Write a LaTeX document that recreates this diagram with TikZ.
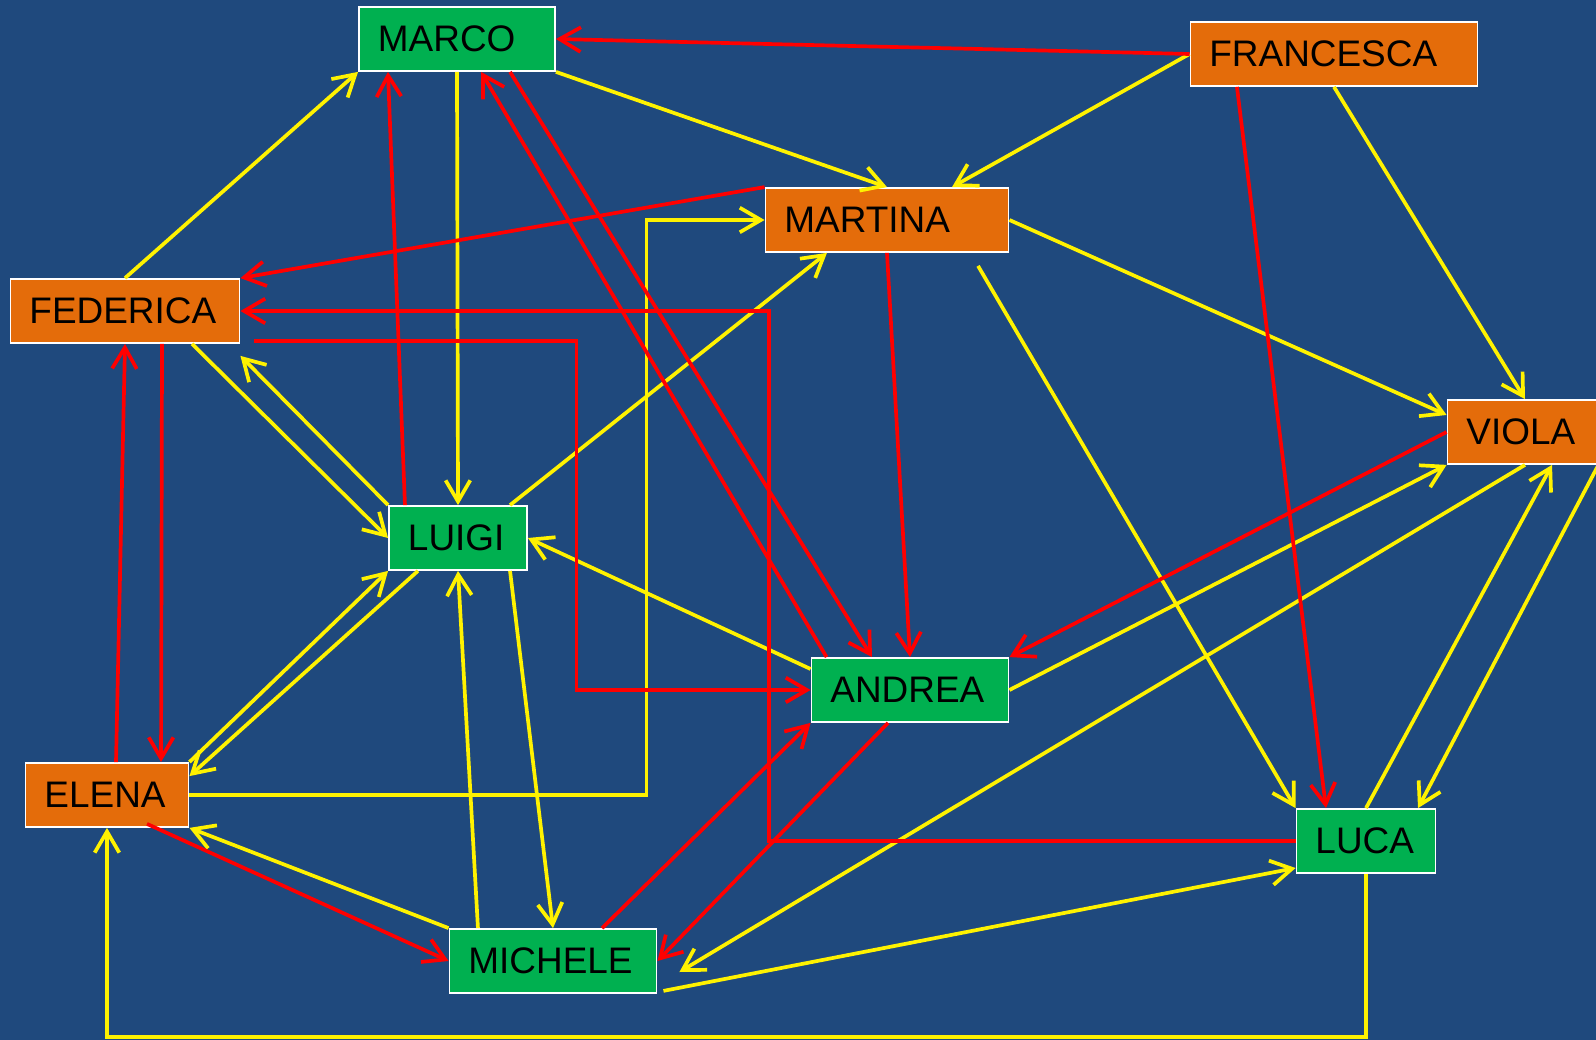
\documentclass[tikz,border=0pt]{standalone}
\usepackage{fontspec}
\setmainfont{Liberation Sans}
\usetikzlibrary{arrows.meta}
\definecolor{bgblue}{HTML}{1F497D}
\definecolor{boygreen}{HTML}{00B050}
\definecolor{girlorange}{HTML}{E46C0A}

\begin{document}
\begin{tikzpicture}[
  x=0.01cm, y=-0.01cm,
  >={Straight Barb[length=6pt,width=7pt]},
  person/.style={draw=white,line width=0.5pt,minimum height=0.64cm,inner xsep=0.19cm,inner ysep=0pt,
    align=left,font=\fontsize{10.5}{12}\selectfont},
  boy/.style={person,fill=boygreen},
  girl/.style={person,fill=girlorange},
  yflow/.style={->,yellow,line width=1.05pt},
  rflow/.style={->,red,line width=1.05pt}
]
  \fill[bgblue] (0,0) rectangle (1596,1040);
  \useasboundingbox (0,0) rectangle (1596,1040);

  \node[boy,text width=1.58cm] (marco) at (457,39) {MARCO};
  \node[girl,text width=2.49cm] (francesca) at (1334,54) {FRANCESCA};
  \node[girl,text width=2.05cm] (martina) at (887,220) {MARTINA};
  \node[girl,text width=1.91cm] (federica) at (125,311) {FEDERICA};
  \node[girl,text width=1.17cm] (viola) at (1525,432) {VIOLA};
  \node[boy,text width=1.00cm] (luigi) at (458,538) {LUIGI};
  \node[boy,text width=1.59cm] (andrea) at (910,690) {ANDREA};
  \node[girl,text width=1.25cm] (elena) at (107,795) {ELENA};
  \node[boy,text width=1.01cm] (luca) at (1366,841) {LUCA};
  \node[boy,text width=1.69cm] (michele) at (553,961) {MICHELE};

  % yellow links
  \draw[yflow] (federica.north) -- (marco.south west);
  \draw[yflow] (marco.south) -- (luigi.north);
  \draw[yflow] (marco.south east) -- (martina.north);
  \draw[yflow] (francesca.west) -- ([xshift=0.65cm]martina.north);
  \draw[yflow] (francesca.south) -- (viola.north);
  \draw[yflow] (martina.east) -- ([yshift=0.17cm]viola.west);
  \draw[yflow] ([xshift=0.91cm,yshift=-0.13cm]martina.south) -- (luca.north west);
  \draw[yflow] ([xshift=0.52cm]luigi.north) -- ([xshift=-0.6cm]martina.south);
  \draw[yflow] (elena.east) -| ([xshift=-1.18cm]martina.west) -- (martina.west);
  \draw[yflow] ([xshift=0.67cm]federica.south) -- (luigi.west);
  \draw[yflow] (luigi.north west) -- ([yshift=-0.12cm]federica.south east);
  \draw[yflow] (elena.north east) -- (luigi.south west);
  \draw[yflow] ([xshift=-0.4cm]luigi.south) -- ([yshift=-0.14cm]elena.north east);
  \draw[yflow] ([xshift=-0.75cm]michele.north) -- (luigi.south);
  \draw[yflow] ([xshift=0.52cm]luigi.south) -- (michele.north);
  \draw[yflow] ([yshift=0.21cm]andrea.west) -- (luigi.east);
  \draw[yflow] (michele.north west) -- (elena.south east);
  \draw[yflow] (andrea.east) -- (viola.south west);
  \draw[yflow] (viola.south) -- ([xshift=0.22cm,yshift=-0.11cm]michele.east);
  \draw[yflow] (luca.north) -- ([xshift=0.27cm]viola.south);
  \draw[yflow] ([xshift=-0.05cm]viola.south east) -- ([xshift=0.52cm]luca.north);
  \draw[yflow] ([xshift=0.06cm,yshift=0.03cm]michele.south east) -- ([yshift=-0.27cm]luca.west);
  \draw[yflow] (luca.south) |- ([yshift=-2.09cm]elena.south) -- (elena.south);

  % red links
  \draw[rflow] (francesca.west) -- (marco.east);
  \draw[rflow] ([xshift=-0.97cm]francesca.south) -- ([xshift=-0.4cm]luca.north);
  \draw[rflow] (martina.north west) -- (federica.north east);
  \draw[rflow] (luca.west) -| ([xshift=5.28cm]federica.east) -- (federica.east);
  \draw[rflow] ([xshift=0.14cm,yshift=0.03cm]federica.south east) -| ([xshift=-2.34cm]andrea.west) -- (andrea.west);
  \draw[rflow] ([xshift=-0.53cm]luigi.north) -- ([xshift=-0.69cm]marco.south);
  \draw[rflow] ([xshift=0.16cm]andrea.north west) -- ([xshift=0.24cm]marco.south);
  \draw[rflow] ([xshift=0.53cm]marco.south) -- ([xshift=-0.38cm]andrea.north);
  \draw[rflow] (martina.south) -- (andrea.north);
  \draw[rflow] (viola.west) -- (andrea.north east);
  \draw[rflow] ([xshift=0.37cm]federica.south) -- ([xshift=0.54cm]elena.north);
  \draw[rflow] ([xshift=0.09cm]elena.north) -- (federica.south);
  \draw[rflow] ([xshift=0.4cm,yshift=0.04cm]elena.south) -- (michele.west);
  \draw[rflow] ([xshift=0.49cm]michele.north) -- (andrea.south west);
  \draw[rflow] ([xshift=-0.22cm]andrea.south) -- (michele.east);
\end{tikzpicture}
\end{document}
